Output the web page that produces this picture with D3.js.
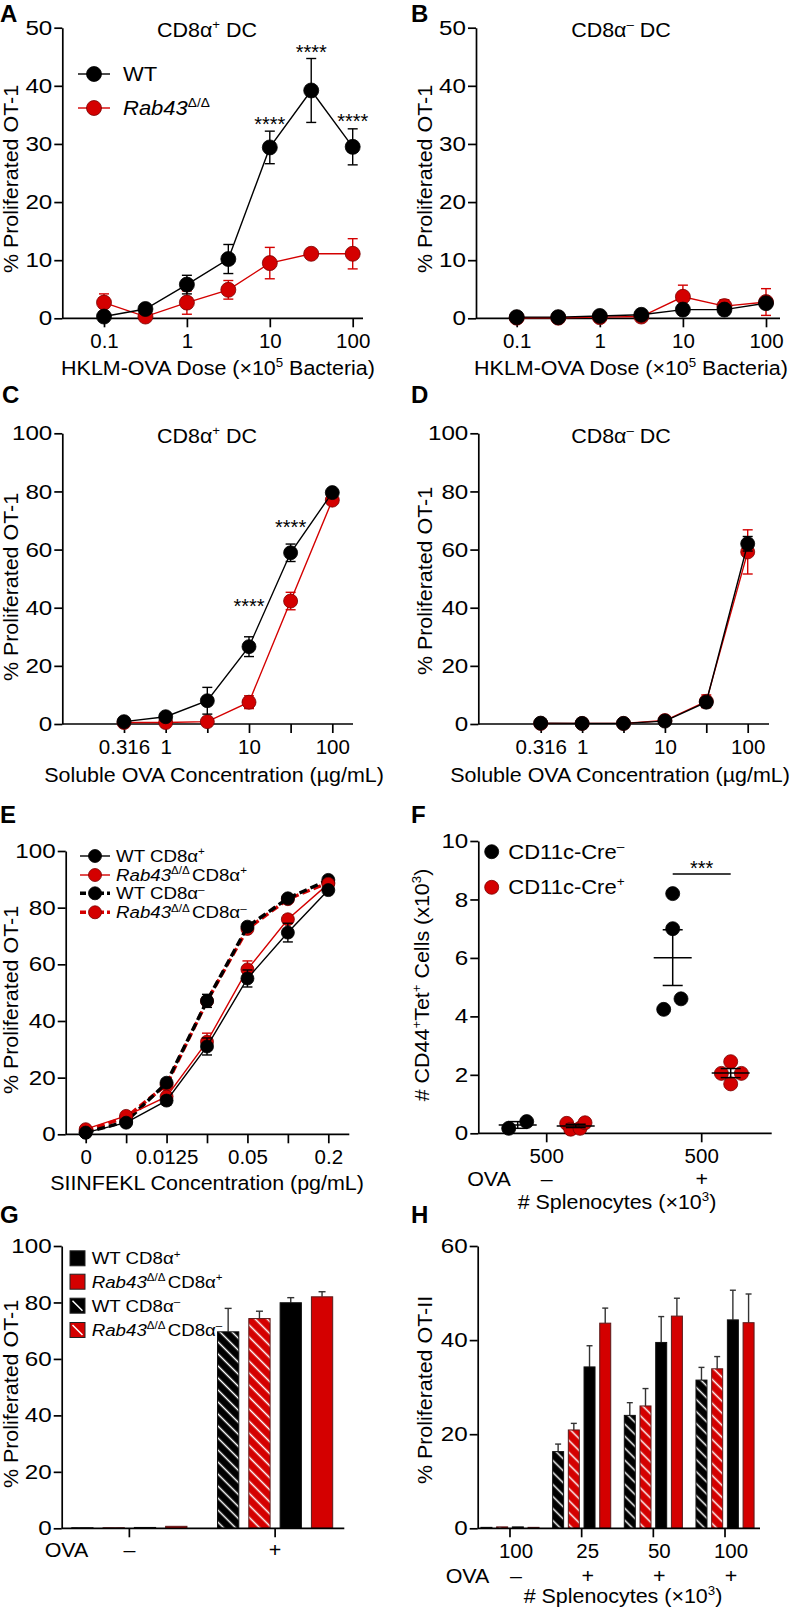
<!DOCTYPE html>
<html><head><meta charset="utf-8">
<script src="https://cdn.jsdelivr.net/npm/d3@7"></script>
<style>
body{margin:0;background:#fff}
svg{display:block}
text{font-family:"Liberation Sans",Arial,Helvetica,sans-serif;fill:#000}
</style>
</head><body>
<svg id="c" width="798" height="1608"></svg>
<script>
// ================= DATA =================
// Panel A / B : HKLM-OVA dose (x10^5 bacteria)
const doseAB = [0.1, 0.316, 1, 3.16, 10, 31.6, 100];
const doseTicksAB = [0.1, 1, 10, 100];
const doseLabelsAB = ["0.1", "1", "10", "100"];
const aWT = [0.3, 1.6, 5.8, 10.2, 29.4, 39.2, 29.5];
const aWTerr = [0.3, 0.5, 1.6, 2.5, 2.8, 5.5, 3.1];
const aKO = [2.7, 0.3, 2.7, 4.9, 9.5, 11.1, 11.1];
const aKOerr = [1.5, 0.3, 2.0, 1.6, 2.7, 0.4, 2.6];
const aStarDose = [10, 31.6, 100];
const aStarLevel = [33.9, 46.3, 34.5];
const bWT = [0.2, 0.2, 0.4, 0.6, 1.5, 1.5, 2.6];
const bWTerr = [0.1, 0.1, 0.1, 0.1, 0.3, 0.3, 0.4];
const bKO = [0.1, 0.1, 0.2, 0.3, 3.7, 2.1, 2.8];
const bKOerr = [0.1, 0.1, 0.1, 0.1, 2.0, 1.1, 2.3];
// Panel C / D : soluble OVA (ug/mL)
const doseCD = [0.316, 1, 3.16, 10, 31.6, 100];
const doseLabelsCD = ["0.316", "1", "", "10", "", "100"];
const cWT = [0.8, 2.5, 8.0, 26.6, 58.9, 79.6];
const cWTerr = [0.5, 0.8, 4.6, 3.4, 3.0, 1.0];
const cKO = [0.5, 0.5, 0.8, 7.5, 42.3, 77.0];
const cKOerr = [0.3, 0.3, 0.4, 2.2, 3.0, 1.0];
const cStarDose = [10, 31.6];
const cStarLevel = [41.7, 68.7];
const dWT = [0.3, 0.2, 0.2, 1.0, 7.5, 62.0];
const dWTerr = [0.1, 0.1, 0.1, 0.3, 1.0, 2.5];
const dKO = [0.2, 0.2, 0.2, 1.2, 7.8, 59.2];
const dKOerr = [0.1, 0.1, 0.1, 0.4, 2.2, 7.6];
// Panel E : SIINFEKL (pg/mL)
const concE = ["0", "0.00625", "0.0125", "0.025", "0.05", "0.1", "0.2"];
const concLabelsE = ["0", "", "0.0125", "", "0.05", "", "0.2"];
const eWTpos = [0.6, 4.1, 11.9, 31.0, 55.0, 71.2, 86.2];
const eWTposErr = [0.4, 0.8, 1.5, 3.0, 3.0, 3.3, 1.0];
const eKOpos = [1.8, 6.5, 13.3, 32.7, 58.2, 75.9, 88.4];
const eKOposErr = [0.4, 0.8, 1.0, 3.0, 3.0, 1.5, 1.0];
const eWTneg = [0.6, 4.5, 18.2, 47.1, 73.3, 83.3, 89.8];
const eWTnegErr = [0.4, 0.6, 1.0, 2.3, 1.0, 1.0, 0.8];
const eKOneg = [1.2, 6.0, 17.5, 47.0, 72.5, 83.0, 88.8];
const eKOnegErr = [0.4, 0.6, 1.0, 1.5, 1.0, 1.0, 0.8];
// Panel F : # CD44+Tet+ cells (x10^3), 500 x10^3 splenocytes
const fOVA = ["–", "+"];
const fCreNegOVAneg = [0.17, 0.40];
const fCreNegOVApos = [8.2, 7.0, 4.24, 4.6];
const fCrePosOVAneg = [0.34, 0.14, 0.17, 0.36];
const fCrePosOVApos = [2.45, 2.05, 2.05, 1.69];
const fSigLevel = 8.87;
// Panel G : % proliferated OT-1 bars
const gOVA = ["–", "+"];
const gWTneg = [0.2, 69.6], gWTnegErr = [0, 8.3];
const gKOneg = [0.2, 74.3], gKOnegErr = [0, 2.6];
const gWTpos = [0.3, 79.9], gWTposErr = [0, 1.8];
const gKOpos = [0.7, 82.0], gKOposErr = [0, 1.8];
// Panel H : % proliferated OT-II bars
const hGroups = ["100–", "25+", "50+", "100+"];
const hSpleno = ["100", "25", "50", "100"];
const hOVA = ["–", "+", "+", "+"];
const hWTneg = [0.2, 16.3, 24.0, 31.5], hWTnegErr = [0, 1.6, 2.7, 2.7];
const hKOneg = [0.3, 20.9, 26.0, 33.9], hKOnegErr = [0, 1.4, 3.7, 2.6];
const hWTpos = [0.3, 34.3, 39.5, 44.3], hWTposErr = [0, 4.5, 5.5, 6.3];
const hKOpos = [0.2, 43.6, 45.1, 43.7], hKOposErr = [0, 3.2, 3.8, 6.1];

// ================= STYLE / HELPERS =================
const RED = "#d40000", RED_DARK = "#7a0000";
const SX = 1.1, FS = 19.5, TICK_FS = 20.5, YTICK_SX = 1.18;
const svg = d3.select("#c");
const defs = svg.append("defs");
function hatch(id, color) {
  const p = defs.append("pattern").attr("id", id).attr("patternUnits", "userSpaceOnUse")
    .attr("width", 8.5).attr("height", 8.5).attr("patternTransform", "rotate(45)");
  p.append("rect").attr("width", 8.5).attr("height", 8.5).attr("fill", color);
  p.append("line").attr("x1", 0).attr("x2", 8.5).attr("y1", 4.25).attr("y2", 4.25)
    .attr("stroke", "#fff").attr("stroke-width", 1.5);
}
hatch("hatchK", "#000");
hatch("hatchR", RED);

function txt(parent, x, y, parts, o = {}) {
  const size = o.size || FS, sx = o.sx || SX;
  const g = parent.append("g").attr("transform",
    `translate(${x},${y})${o.rotate ? ` rotate(${o.rotate})` : ""} scale(${sx},1)`);
  const t = g.append("text").attr("text-anchor", o.anchor || "middle").attr("font-size", size)
    .attr("font-weight", o.weight || "normal");
  if (typeof parts === "string") parts = [{ t: parts }];
  let shifted = false;
  parts.forEach(p => {
    const ts = t.append("tspan").text(p.t);
    if (p.it) ts.attr("font-style", "italic");
    if (p.dx) ts.attr("dx", p.dx);
    if (p.sup) { ts.attr("font-size", size * 0.62).attr("dy", shifted ? 0 : -size * 0.4); shifted = true; }
    else if (shifted) { ts.attr("dy", size * 0.4); shifted = false; }
  });
  return t;
}
function axes(g, o) {
  const ya = g.append("g").attr("transform", `translate(${o.x0},0)`)
    .call(d3.axisLeft(o.y).tickValues(o.yTicks).tickSize(8).tickSizeOuter(0).tickPadding(2));
  const xa = g.append("g").attr("transform", `translate(0,${o.y(0)})`)
    .call(d3.axisBottom(o.x).tickValues(o.xTicks).tickFormat((d, i) => o.xLabels[i])
      .tickSize(9).tickSizeOuter(0).tickPadding(6));
  xa.select(".domain").remove();
  xa.append("line").attr("x1", o.x0).attr("x2", o.xEnd);
  [ya, xa].forEach(a => {
    a.selectAll("line,path").attr("stroke", "#000").attr("stroke-width", 1.7);
    const sx = a === ya ? YTICK_SX : 1.0;
    a.selectAll("text").attr("font-size", TICK_FS).attr("fill", "#000").each(function () {
      const t = d3.select(this);
      const xx = (+t.attr("x") || 0) + (a === xa ? (o.labelDx || 0) : 0);
      t.attr("x", xx / sx).attr("transform", `scale(${sx},1)`);
    });
  });
}
function lineSeries(g, x, y, xs, vals, errs, st) {
  const pts = xs.map((d, i) => ({ x: d, v: vals[i], e: errs[i] }));
  g.append("path").datum(pts).attr("fill", "none").attr("stroke", st.color)
    .attr("stroke-width", st.lw || 1.4).attr("stroke-dasharray", st.dash || null)
    .attr("d", d3.line().x(d => x(d.x)).y(d => y(d.v)));
  const eb = g.append("g").attr("stroke", st.color).attr("stroke-width", 1.4);
  pts.forEach(d => {
    if (!d.e) return;
    const cx = x(d.x), y1 = y(d.v + d.e), y2 = y(d.v - d.e);
    eb.append("line").attr("x1", cx).attr("x2", cx).attr("y1", y1).attr("y2", y2);
    [y1, y2].forEach(yy => eb.append("line").attr("x1", cx - st.cap).attr("x2", cx + st.cap)
      .attr("y1", yy).attr("y2", yy));
  });
  g.append("g").selectAll("circle").data(pts).join("circle")
    .attr("cx", d => x(d.x)).attr("cy", d => y(d.v)).attr("r", st.r)
    .attr("fill", st.color).attr("stroke", st.color === RED ? RED_DARK : "#000").attr("stroke-width", 0.8);
}
function stars(g, x, y, doses, levels, s) {
  doses.forEach((d, i) => g.append("text").attr("x", x(d)).attr("y", y(levels[i]) + 10)
    .attr("text-anchor", "middle").attr("font-size", 20).text(s));
}
function letter(ch, x, y) { txt(svg, x, y, ch, { size: 24, weight: "bold", anchor: "start", sx: 1 }); }
const cd8 = (sign) => [{ t: "CD8α" }, { t: sign, sup: 1 }];
const rab = [{ t: "Rab43", it: 1 }, { t: "Δ/Δ", sup: 1 }];

// ================= PANEL A =================
{
  const g = svg.append("g");
  const x = d3.scaleLog().domain([0.1, 100]).range([104, 352.7]);
  const y = d3.scaleLinear().domain([0, 50]).range([318.3, 27.7]);
  axes(g, { x, y, x0: 62.3, xEnd: 363, yTicks: d3.range(0, 51, 10), xTicks: doseTicksAB, xLabels: doseLabelsAB });
  lineSeries(g, x, y, doseAB, aKO, aKOerr, { color: RED, r: 7.5, cap: 5 });
  lineSeries(g, x, y, doseAB, aWT, aWTerr, { color: "#000", r: 7.5, cap: 5 });
  stars(g, x, y, aStarDose, aStarLevel, "****");
  letter("A", 0, 22);
  txt(g, 207, 37, [{ t: "CD8α" }, { t: "+", sup: 1 }, { t: " DC" }]);
  txt(g, 218, 375, [{ t: "HKLM-OVA Dose (×10" }, { t: "5", sup: 1 }, { t: " Bacteria)" }]);
  txt(g, 18, 179, "% Proliferated OT-1", { rotate: -90 });
  [{ c: "#000", yy: 74, lab: [{ t: "WT" }] }, { c: RED, yy: 108, lab: rab }].forEach(l => {
    g.append("line").attr("x1", 78).attr("x2", 110).attr("y1", l.yy).attr("y2", l.yy).attr("stroke", l.c).attr("stroke-width", 1.4);
    g.append("circle").attr("cx", 94).attr("cy", l.yy).attr("r", 7.5).attr("fill", l.c).attr("stroke", l.c === RED ? RED_DARK : "#000").attr("stroke-width", 0.8);
    txt(g, 123, l.yy + 7, l.lab, { anchor: "start", size: 20 });
  });
}
// ================= PANEL B =================
{
  const g = svg.append("g");
  const x = d3.scaleLog().domain([0.1, 100]).range([516.7, 766]);
  const y = d3.scaleLinear().domain([0, 50]).range([318.3, 27.7]);
  axes(g, { x, y, x0: 476, xEnd: 780, yTicks: d3.range(0, 51, 10), xTicks: doseTicksAB, xLabels: doseLabelsAB });
  lineSeries(g, x, y, doseAB, bKO, bKOerr, { color: RED, r: 7.5, cap: 5 });
  lineSeries(g, x, y, doseAB, bWT, bWTerr, { color: "#000", r: 7.5, cap: 5 });
  letter("B", 411, 22);
  txt(g, 621, 37, [{ t: "CD8α" }, { t: "–", sup: 1 }, { t: " DC" }]);
  txt(g, 631, 375, [{ t: "HKLM-OVA Dose (×10" }, { t: "5", sup: 1 }, { t: " Bacteria)" }]);
  txt(g, 431.7, 179, "% Proliferated OT-1", { rotate: -90 });
}
// ================= PANEL C =================
{
  const g = svg.append("g");
  const x = d3.scaleLog().domain([0.316, 100]).range([124, 332.3]);
  const y = d3.scaleLinear().domain([0, 100]).range([724, 433.3]);
  axes(g, { x, y, x0: 62.3, xEnd: 353, yTicks: d3.range(0, 101, 20), xTicks: doseCD, xLabels: doseLabelsCD });
  lineSeries(g, x, y, doseCD, cKO, cKOerr, { color: RED, r: 7, cap: 5 });
  lineSeries(g, x, y, doseCD, cWT, cWTerr, { color: "#000", r: 7, cap: 5 });
  stars(g, x, y, cStarDose, cStarLevel, "****");
  letter("C", 2, 403);
  txt(g, 207, 443, [{ t: "CD8α" }, { t: "+", sup: 1 }, { t: " DC" }]);
  txt(g, 214, 782, "Soluble OVA Concentration (µg/mL)");
  txt(g, 18, 587, "% Proliferated OT-1", { rotate: -90 });
}
// ================= PANEL D =================
{
  const g = svg.append("g");
  const x = d3.scaleLog().domain([0.316, 100]).range([540.7, 747.7]);
  const y = d3.scaleLinear().domain([0, 100]).range([724, 433.3]);
  axes(g, { x, y, x0: 478.3, xEnd: 769, yTicks: d3.range(0, 101, 20), xTicks: doseCD, xLabels: doseLabelsCD });
  lineSeries(g, x, y, doseCD, dKO, dKOerr, { color: RED, r: 7, cap: 5 });
  lineSeries(g, x, y, doseCD, dWT, dWTerr, { color: "#000", r: 7, cap: 5 });
  letter("D", 411, 403);
  txt(g, 621, 443, [{ t: "CD8α" }, { t: "–", sup: 1 }, { t: " DC" }]);
  txt(g, 620, 782, "Soluble OVA Concentration (µg/mL)");
  txt(g, 431.7, 581, "% Proliferated OT-1", { rotate: -90 });
}
// ================= PANEL E =================
{
  const g = svg.append("g");
  const x = d3.scalePoint().domain(concE).range([85.7, 328.3]);
  const y = d3.scaleLinear().domain([0, 100]).range([1134.3, 851]);
  axes(g, { x, y, x0: 65.7, xEnd: 349.3, yTicks: d3.range(0, 101, 20), xTicks: concE, xLabels: concLabelsE });
  lineSeries(g, x, y, concE, eKOneg, eKOnegErr, { color: RED, r: 6.5, cap: 5, lw: 3.4, dash: "8,4" });
  lineSeries(g, x, y, concE, eWTneg, eWTnegErr, { color: "#000", r: 6.5, cap: 5, lw: 3.4, dash: "8,4" });
  lineSeries(g, x, y, concE, eKOpos, eKOposErr, { color: RED, r: 6.5, cap: 5 });
  lineSeries(g, x, y, concE, eWTpos, eWTposErr, { color: "#000", r: 6.5, cap: 5 });
  letter("E", 0, 823);
  txt(g, 207, 1190, "SIINFEKL Concentration (pg/mL)");
  txt(g, 18, 1000, "% Proliferated OT-1", { rotate: -90 });
  const leg = [
    { c: "#000", yy: 856, lab: [{ t: "WT " }, ...cd8("+")] },
    { c: RED, yy: 875, lab: [...rab, { t: "CD8α", dx: 2 }, { t: "+", sup: 1 }] },
    { c: "#000", yy: 893.3, lab: [{ t: "WT " }, ...cd8("–")], dash: 1 },
    { c: RED, yy: 912.3, lab: [...rab, { t: "CD8α", dx: 2 }, { t: "–", sup: 1 }], dash: 1 }];
  leg.forEach(l => {
    g.append("line").attr("x1", 80).attr("x2", 110).attr("y1", l.yy).attr("y2", l.yy).attr("stroke", l.c)
      .attr("stroke-width", l.dash ? 3.4 : 1.4).attr("stroke-dasharray", l.dash ? "6,3" : null);
    g.append("circle").attr("cx", 95).attr("cy", l.yy).attr("r", 6.5).attr("fill", l.c).attr("stroke", l.c === RED ? RED_DARK : "#000").attr("stroke-width", 0.8);
    txt(g, 116, l.yy + 6, l.lab, { anchor: "start", size: 17 });
  });
}
// ================= PANEL F =================
{
  const g = svg.append("g");
  const x = d3.scaleBand().domain(fOVA).range([469.2, 779.2]);
  const sub = d3.scalePoint().domain(["neg", "pos"]).range([-29, 29]);
  const y = d3.scaleLinear().domain([0, 10]).range([1133.3, 841]);
  axes(g, { x, y, x0: 478.3, xEnd: 771.7, yTicks: d3.range(0, 11, 2), xTicks: fOVA, xLabels: ["500", "500"] });
  const jit = { "neg–": [-9, 9], "neg+": [0, 0, -9, 8.3], "pos–": [-9, -5, 4.3, 9.3], "pos+": [0, -9.3, 10.7, 0] };
  const groups = [
    { cre: "neg", ova: "–", v: fCreNegOVAneg }, { cre: "pos", ova: "–", v: fCrePosOVAneg },
    { cre: "neg", ova: "+", v: fCreNegOVApos }, { cre: "pos", ova: "+", v: fCrePosOVApos }];
  groups.forEach(gr => {
    const cx = x(gr.ova) + x.bandwidth() / 2 + sub(gr.cre);
    const col = gr.cre === "neg" ? "#000" : RED;
    const j = jit[gr.cre + gr.ova];
    gr.v.forEach((v, i) => g.append("circle").attr("cx", cx + j[i]).attr("cy", y(v)).attr("r", 7)
      .attr("fill", col).attr("stroke", col === RED ? RED_DARK : "#000").attr("stroke-width", 0.8));
    const m = d3.mean(gr.v), se = d3.deviation(gr.v) / Math.sqrt(gr.v.length);
    const lg = g.append("g").attr("stroke", "#000").attr("stroke-width", 1.5);
    lg.append("line").attr("x1", cx - 19).attr("x2", cx + 19).attr("y1", y(m)).attr("y2", y(m));
    lg.append("line").attr("x1", cx).attr("x2", cx).attr("y1", y(m + se)).attr("y2", y(m - se));
    [m + se, m - se].forEach(vv => lg.append("line").attr("x1", cx - 10).attr("x2", cx + 10).attr("y1", y(vv)).attr("y2", y(vv)));
  });
  const c0 = x("+") + x.bandwidth() / 2;
  g.append("line").attr("x1", c0 + sub("neg")).attr("x2", c0 + sub("pos")).attr("y1", y(fSigLevel)).attr("y2", y(fSigLevel)).attr("stroke", "#000").attr("stroke-width", 1.4);
  g.append("text").attr("x", c0).attr("y", y(fSigLevel) + 1).attr("text-anchor", "middle").attr("font-size", 20).text("***");
  fOVA.forEach(o => txt(g, x(o) + x.bandwidth() / 2, 1186, o));
  txt(g, 489, 1186, "OVA");
  txt(g, 617, 1209, [{ t: "# Splenocytes (×10" }, { t: "3", sup: 1 }, { t: ")" }]);
  txt(g, 429, 985, [{ t: "# CD44" }, { t: "+", sup: 1 }, { t: "Tet" }, { t: "+", sup: 1 }, { t: " Cells (x10" }, { t: "3", sup: 1 }, { t: ")" }], { rotate: -90 });
  letter("F", 411, 823);
  [{ c: "#000", yy: 851.7, lab: [{ t: "CD11c-Cre" }, { t: "–", sup: 1 }] }, { c: RED, yy: 887.3, lab: [{ t: "CD11c-Cre" }, { t: "+", sup: 1 }] }].forEach(l => {
    g.append("circle").attr("cx", 491.7).attr("cy", l.yy).attr("r", 7).attr("fill", l.c).attr("stroke", l.c === RED ? RED_DARK : "#000").attr("stroke-width", 0.8);
    txt(g, 508.3, l.yy + 7, l.lab, { anchor: "start", size: 20 });
  });
}
// ================= BAR HELPER =================
function bars(g, x, sub, y, groups, series, cap) {
  series.forEach(s => {
    groups.forEach((gr, i) => {
      const bx = x(gr) + sub(s.key), w = sub.bandwidth(), v = s.v[i], e = s.e[i];
      if (e > 0) {
        const cx = bx + w / 2;
        g.append("line").attr("x1", cx).attr("x2", cx).attr("y1", y(v)).attr("y2", y(v + e)).attr("stroke", "#333").attr("stroke-width", 1.4);
        g.append("line").attr("x1", cx - cap).attr("x2", cx + cap).attr("y1", y(v + e)).attr("y2", y(v + e)).attr("stroke", "#333").attr("stroke-width", 1.4);
      }
      g.append("rect").attr("x", bx).attr("y", y(v)).attr("width", w).attr("height", y(0) - y(v))
        .attr("fill", s.fill).attr("stroke", s.red ? "#5a1a1a" : "#111").attr("stroke-width", 1);
    });
  });
}
// ================= PANEL G =================
{
  const g = svg.append("g");
  const x = d3.scaleBand().domain(gOVA).range([56.5, 348]);
  const sub = d3.scaleBand().domain(["WTn", "KOn", "WTp", "KOp"]).range([10.25, 135.45]).paddingInner(0.32).paddingOuter(0.16);
  const y = d3.scaleLinear().domain([0, 100]).range([1528.3, 1246]);
  bars(g, x, sub, y, gOVA, [
    { key: "WTn", v: gWTneg, e: gWTnegErr, fill: "url(#hatchK)" },
    { key: "KOn", v: gKOneg, e: gKOnegErr, fill: "url(#hatchR)", red: 1 },
    { key: "WTp", v: gWTpos, e: gWTposErr, fill: "#000" },
    { key: "KOp", v: gKOpos, e: gKOposErr, fill: RED, red: 1 }], 3.5);
  axes(g, { x, y, x0: 61.7, xEnd: 344.3, yTicks: d3.range(0, 101, 20), xTicks: gOVA, xLabels: ["", ""] });
  gOVA.forEach(o => txt(g, x(o) + x.bandwidth() / 2, 1557, o));
  txt(g, 66.5, 1557, "OVA");
  txt(g, 18, 1394, "% Proliferated OT-1", { rotate: -90 });
  letter("G", 0, 1223);
  const leg = [
    { yy: 1258.3, f: "#000", lab: [{ t: "WT " }, ...cd8("+")] },
    { yy: 1281.7, f: RED, lab: [...rab, { t: "CD8α", dx: 2 }, { t: "+", sup: 1 }] },
    { yy: 1305.7, f: "#000", lab: [{ t: "WT " }, ...cd8("–")], h: 1 },
    { yy: 1330, f: RED, lab: [...rab, { t: "CD8α", dx: 2 }, { t: "–", sup: 1 }], h: 1 }];
  leg.forEach(l => {
    g.append("rect").attr("x", 70).attr("y", l.yy - 7.5).attr("width", 15).attr("height", 15).attr("fill", l.f).attr("stroke", "#222").attr("stroke-width", 1);
    if (l.h) g.append("line").attr("x1", 72.5).attr("y1", l.yy - 5).attr("x2", 82.5).attr("y2", l.yy + 5).attr("stroke", "#fff").attr("stroke-width", 1.5);
    txt(g, 91.7, l.yy + 6, l.lab, { anchor: "start", size: 17 });
  });
}
// ================= PANEL H =================
{
  const g = svg.append("g");
  const x = d3.scaleBand().domain(hGroups).range([474.15, 760.85]);
  const sub = d3.scaleBand().domain(["WTn", "KOn", "WTp", "KOp"]).range([4.45, 67.25]).paddingInner(0.3).paddingOuter(0.15);
  const y = d3.scaleLinear().domain([0, 60]).range([1528.3, 1246]);
  bars(g, x, sub, y, hGroups, [
    { key: "WTn", v: hWTneg, e: hWTnegErr, fill: "url(#hatchK)" },
    { key: "KOn", v: hKOneg, e: hKOnegErr, fill: "url(#hatchR)", red: 1 },
    { key: "WTp", v: hWTpos, e: hWTposErr, fill: "#000" },
    { key: "KOp", v: hKOpos, e: hKOposErr, fill: RED, red: 1 }], 3);
  axes(g, { x, y, x0: 477.7, xEnd: 760, yTicks: d3.range(0, 61, 20), xTicks: hGroups, xLabels: hSpleno, labelDx: 6 });
  hGroups.forEach((gr, i) => txt(g, x(gr) + x.bandwidth() / 2 + 6, 1583, hOVA[i]));
  txt(g, 467.5, 1583, "OVA");
  txt(g, 623, 1603, [{ t: "# Splenocytes (×10" }, { t: "3", sup: 1 }, { t: ")" }]);
  txt(g, 431.7, 1390, "% Proliferated OT-II", { rotate: -90 });
  letter("H", 411, 1223);
}
</script>
</body></html>
